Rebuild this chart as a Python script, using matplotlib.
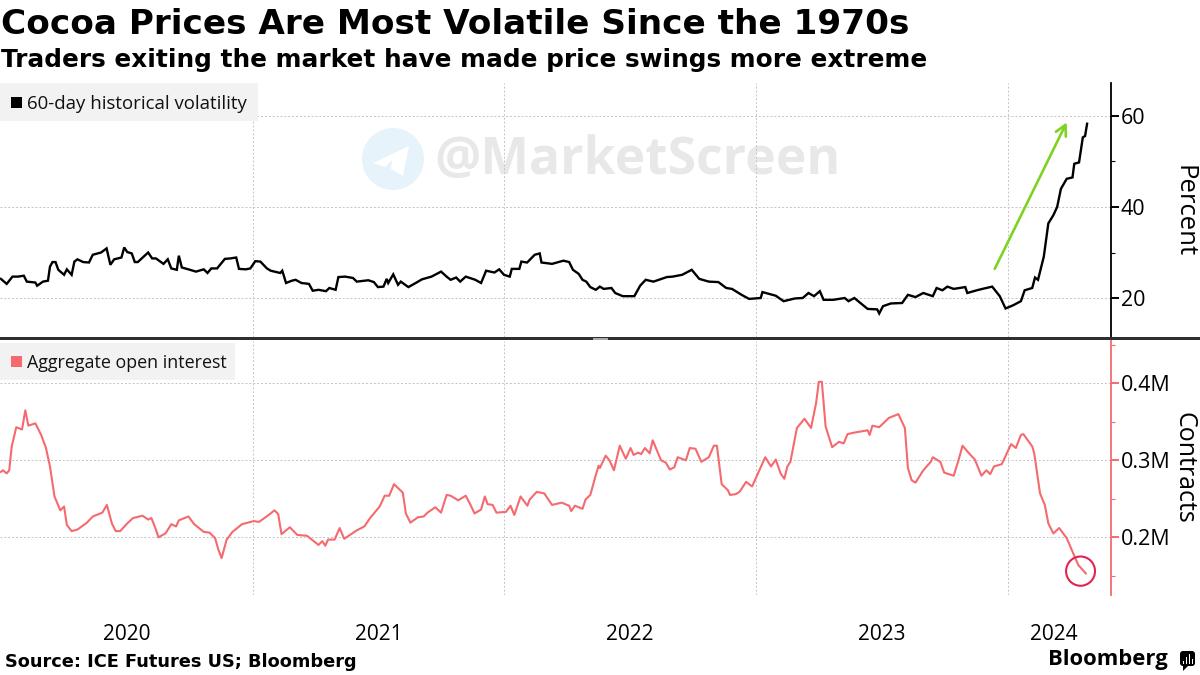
import matplotlib
matplotlib.use("Agg")
import matplotlib.pyplot as plt
from matplotlib.patches import Rectangle, Ellipse, Circle, Polygon, FancyBboxPatch

vol_x = [2020.000,2020.023,2020.046,2020.068,2020.091,2020.103,2020.137,2020.144,2020.167,2020.187,2020.195,2020.205,2020.217,2020.228,2020.251,2020.262,2020.281,2020.292,2020.304,2020.327,2020.350,2020.365,2020.398,2020.420,2020.435,2020.450,2020.479,2020.490,2020.502,2020.520,2020.532,2020.544,2020.585,2020.601,2020.616,2020.646,2020.663,2020.677,2020.699,2020.707,2020.719,2020.745,2020.775,2020.806,2020.821,2020.836,2020.859,2020.890,2020.912,2020.935,2020.946,2020.973,2020.991,
2021.011,2021.031,2021.057,2021.072,2021.110,2021.118,2021.133,2021.156,2021.171,2021.194,2021.224,2021.239,2021.262,2021.292,2021.305,2021.330,2021.341,2021.368,2021.399,2021.414,2021.460,2021.482,2021.498,2021.520,2021.533,2021.539,2021.559,2021.578,2021.589,2021.619,2021.642,2021.673,2021.711,2021.749,2021.771,2021.787,2021.809,2021.825,2021.847,2021.885,2021.908,2021.928,2021.961,2021.980,2021.999,
2022.022,2022.030,2022.060,2022.068,2022.091,2022.121,2022.141,2022.148,2022.190,2022.235,2022.258,2022.273,2022.296,2022.311,2022.326,2022.342,2022.364,2022.380,2022.395,2022.426,2022.441,2022.471,2022.517,2022.540,2022.562,2022.593,2022.646,2022.669,2022.707,2022.745,2022.775,2022.813,2022.851,2022.882,2022.905,2022.943,2022.973,
2023.019,2023.026,2023.079,2023.110,2023.155,2023.186,2023.209,2023.231,2023.254,2023.269,2023.307,2023.353,2023.368,2023.391,2023.444,2023.482,2023.490,2023.505,2023.536,2023.581,2023.604,2023.634,2023.665,2023.703,2023.718,2023.741,2023.761,2023.786,2023.832,2023.840,2023.878,2023.900,2023.939,2023.969,2023.992,
2024.022,2024.053,2024.068,2024.098,2024.109,2024.121,2024.144,2024.162,2024.182,2024.197,2024.212,2024.235,2024.258,2024.265,2024.284,2024.299,2024.308,2024.316]
vol_y = [24.2,23.1,24.7,24.7,24.9,23.6,23.4,22.7,23.6,23.8,26.9,27.9,27.9,26.2,25.1,26.3,25.1,28.0,28.5,27.9,27.8,29.5,30.0,30.9,27.3,28.5,28.9,31.1,30.1,29.8,27.9,27.9,30.0,28.7,28.7,27.5,28.5,26.5,26.2,29.3,26.7,26.3,25.8,26.3,25.5,26.5,26.5,28.6,28.7,28.9,26.4,26.3,26.5,
28.1,28.0,26.5,26.0,25.5,26.0,23.3,23.8,24.0,23.3,23.1,21.6,21.8,21.5,22.2,21.8,24.6,24.7,24.4,23.6,23.9,23.5,22.4,22.5,24.2,23.3,25.2,22.9,23.6,22.4,23.1,24.1,24.7,25.8,24.7,24.0,24.5,23.6,24.7,24.0,23.3,26.0,25.6,26.3,25.1,
24.7,26.4,26.4,28.0,27.8,29.5,29.8,27.8,27.5,28.2,27.9,26.2,25.3,24.0,23.6,22.4,21.8,22.5,22.0,22.2,21.1,20.4,20.4,22.7,24.0,23.6,24.6,24.7,25.1,26.2,24.2,23.6,23.5,22.2,22.0,20.7,19.8,
20.0,21.3,20.5,19.3,19.9,20.0,21.1,20.4,21.5,19.6,19.6,20.0,19.3,20.0,17.6,17.5,16.6,18.2,18.8,18.9,20.7,20.2,21.1,20.4,22.2,21.7,22.5,22.0,22.4,21.1,21.7,22.0,22.5,20.4,17.7,
18.4,19.3,21.7,22.2,24.5,24.0,29.1,36.4,38.2,40.0,44.0,46.2,46.5,49.5,49.8,55.3,55.6,58.3]

oi_x = [2020.000,2020.008,2020.023,2020.033,2020.043,2020.061,2020.084,2020.097,2020.109,2020.137,2020.160,2020.179,2020.195,2020.213,2020.236,2020.251,2020.262,2020.281,2020.304,2020.342,2020.365,2020.403,2020.421,2020.441,2020.456,2020.474,2020.502,2020.525,2020.563,2020.585,2020.598,2020.616,2020.626,2020.654,2020.677,2020.696,2020.707,2020.745,2020.768,2020.806,2020.829,2020.851,2020.864,2020.877,2020.897,2020.920,2020.958,
2021.004,2021.026,2021.064,2021.087,2021.102,2021.115,2021.148,2021.178,2021.216,2021.262,2021.277,2021.289,2021.300,2021.326,2021.346,2021.364,2021.414,2021.444,2021.467,2021.505,2021.525,2021.543,2021.562,2021.597,2021.609,2021.627,2021.657,2021.680,2021.695,2021.726,2021.749,2021.771,2021.787,2021.817,2021.847,2021.863,2021.882,2021.908,2021.923,2021.934,2021.954,2021.969,
2022.007,2022.025,2022.040,2022.065,2022.092,2022.101,2022.129,2022.159,2022.190,2022.228,2022.258,2022.266,2022.281,2022.311,2022.323,2022.342,2022.364,2022.375,2022.380,2022.403,2022.418,2022.436,2022.459,2022.483,2022.502,2022.514,2022.532,2022.544,2022.559,2022.578,2022.590,2022.623,2022.642,2022.658,2022.676,2022.689,2022.722,2022.737,2022.760,2022.783,2022.813,2022.833,2022.845,2022.864,2022.889,2022.897,2022.920,2022.935,2022.961,2022.985,
2023.011,2023.037,2023.060,2023.079,2023.098,2023.113,2023.125,2023.137,2023.163,2023.193,2023.219,2023.239,2023.250,2023.262,2023.277,2023.303,2023.330,2023.349,2023.364,2023.391,2023.444,2023.452,2023.463,2023.490,2023.528,2023.566,2023.592,2023.604,2023.619,2023.634,2023.665,2023.695,2023.703,2023.733,2023.748,2023.786,2023.805,2023.821,2023.847,2023.870,2023.896,2023.916,2023.931,2023.946,2023.977,
2024.014,2024.033,2024.053,2024.063,2024.098,2024.106,2024.129,2024.148,2024.162,2024.182,2024.205,2024.235,2024.261,2024.281,2024.311]
oi_y = [285,287,283,287,318,343,340,365,345,348,333,316,292,253,235,240,216,208,210,219,227,232,242,218,208,208,218,225,228,223,225,210,200,205,217,214,222,227,217,207,206,199,184,173,197,207,217,
221,220,229,235,230,204,213,203,202,190,195,189,197,197,212,198,209,214,225,240,254,254,269,258,231,219,226,227,232,239,232,255,254,248,254,244,231,236,253,243,242,232,
233,241,229,253,241,249,259,257,242,245,241,234,241,237,249,255,281,293,290,306,300,287,319,302,316,307,310,308,316,309,326,300,297,288,291,304,300,316,315,298,304,319,319,269,261,255,256,259,272,266,
285,304,292,301,283,276,292,298,342,354,342,374,402,402,344,317,324,322,334,336,339,333,345,343,355,360,342,290,274,271,287,298,304,298,284,280,300,319,309,301,280,287,282,292,295,
321,316,333,334,318,309,257,242,218,205,212,199,179,164,153]

year_grid = [2021, 2022, 2023, 2024]
year_label_pos = [2020.5, 2021.5, 2022.5, 2023.5, 2024.185]
year_labels = ["2020", "2021", "2022", "2023", "2024"]
vol_ticks = [20, 40, 60]
vol_minor = [30, 50]
oi_ticks = [200, 300, 400]
oi_minor = [150, 250, 350, 450]
oi_tick_labels = ["0.2M", "0.3M", "0.4M"]

W, H = 1200, 675
BODY = "Open Sans"
RED = "#f56a6e"
GRID = "#c4c4c4"
XMIN, XMAX = 2019.9964, 2024.411

fig = plt.figure(figsize=(12, 6.75), dpi=100, facecolor="white")

def box(l, t, r, b):
    return [l / W, 1 - b / H, (r - l) / W, (b - t) / H]

bg = fig.add_axes([0, 0, 1, 1], zorder=0)
bg.set_xlim(0, W); bg.set_ylim(H, 0); bg.axis("off")
top = fig.add_axes(box(0, 83, 1111, 337), zorder=2, facecolor="none")
low = fig.add_axes(box(0, 341, 1111, 595), zorder=2, facecolor="none")
fg = fig.add_axes([0, 0, 1, 1], zorder=3, facecolor="none")
fg.set_xlim(0, W); fg.set_ylim(H, 0); fg.axis("off")

# watermark
bg.add_patch(Circle((393, 159), 31, fc="#e6f3fb", ec="none"))
bg.add_patch(Polygon([(373, 163), (409, 146), (403, 176), (391, 169), (392, 160), (385, 167)], fc="white", ec="none"))
bg.text(434, 160, "@MarketScreen", fontsize=37.2, fontweight="bold", color="#e8e8e8",
        family="Open Sans", va="center", ha="left")

for ax in (top, low):
    ax.set_xlim(XMIN, XMAX)
    for s in ("left", "top", "bottom"):
        ax.spines[s].set_visible(False)
    ax.yaxis.tick_right()
    ax.set_xticks(year_grid)
    ax.tick_params(axis="x", which="major", length=0, labelbottom=False)
    ax.grid(True, axis="both", which="major", color=GRID, lw=0.7, ls=(0, (2, 2)))
    ax.set_axisbelow(True)

top.plot(vol_x, vol_y, color="black", lw=1.7, solid_joinstyle="miter", zorder=3)
top.set_ylim(11.43, 67.25)
top.set_yticks(vol_ticks)
top.set_yticks(vol_minor, minor=True)
top.spines["right"].set_color("black")
top.spines["right"].set_linewidth(1.3)
top.tick_params(axis="y", which="major", length=6, width=1.4, color="black", labelsize=15.5, pad=1)
top.tick_params(axis="y", which="minor", length=3, width=0.8, color="black")
top.set_yticklabels([str(v) for v in vol_ticks], family=BODY)

low.plot(oi_x, oi_y, color=RED, lw=1.5, zorder=3)
low.set_ylim(125, 455)
low.set_yticks(oi_ticks)
low.set_yticks(oi_minor, minor=True)
low.set_yticklabels(oi_tick_labels, family=BODY)
low.spines["right"].set_color(RED)
low.spines["right"].set_linewidth(1.3)
low.tick_params(axis="y", which="major", length=6, width=1.4, color=RED, labelsize=15.5, pad=1)
low.tick_params(axis="y", which="minor", length=3, width=0.8, color=RED)
low.set_xticks(year_label_pos, minor=True)
low.set_xticklabels(year_labels, minor=True, family=BODY, fontsize=15)
low.tick_params(axis="x", which="minor", length=0, pad=21)

# annotations
top.annotate("", xy=(2024.235, 58.6), xytext=(2023.949, 26.4),
             arrowprops=dict(arrowstyle="->,head_length=0.75,head_width=0.4", color="#7ed321", lw=1.9,
                             shrinkA=0, shrinkB=0), zorder=4)
low.add_patch(Ellipse((2024.29, 156), 0.115, 38, fc="none", ec="#e0244f", lw=1.5, zorder=4))

# pane divider
fg.add_patch(Rectangle((0, 337), W, 3.2, fc="#2f2f2f", ec="none"))
fg.add_patch(Rectangle((593, 338.0), 15, 0.6, fc="#aaaaaa", ec="none"))
fg.add_patch(Rectangle((593, 339.2), 15, 0.6, fc="#aaaaaa", ec="none"))

# legends
fg.add_patch(Rectangle((0, 83), 258, 38, fc="#f2f2f2", ec="none"))
fg.add_patch(Rectangle((11, 97), 11, 11, fc="black", ec="none"))
fg.text(27, 104, "60-day historical volatility", fontsize=13.4, family=BODY, va="center", color="#111111")
fg.add_patch(Rectangle((0, 343), 235, 37, fc="#f2f2f2", ec="none"))
fg.add_patch(Rectangle((11, 356), 11, 11, fc=RED, ec="none"))
fg.text(27, 363, "Aggregate open interest", fontsize=12.9, family=BODY, va="center", color="#111111")

# axis titles
fg.text(1184, 211, "Percent", rotation=270, fontsize=18.5, family=BODY, ha="center", va="center")
fg.text(1184, 468, "Contracts", rotation=270, fontsize=18, family=BODY, ha="center", va="center")

# headings and footer
fg.text(1, 25, "Cocoa Prices Are Most Volatile Since the 1970s", fontsize=24.65, fontweight="bold",
        family="DejaVu Sans", va="center", color="black")
fg.text(1, 60, "Traders exiting the market have made price swings more extreme", fontsize=17.85,
        fontweight="bold", family="DejaVu Sans", va="center", color="black")
fg.text(5, 662, "Source: ICE Futures US; Bloomberg", fontsize=12.75, fontweight="bold",
        family="DejaVu Sans", va="center", color="black")
fg.text(1048, 660, "Bloomberg", fontsize=15.8, fontweight="bold", family="Open Sans", va="center", color="black")
fg.add_patch(FancyBboxPatch((1180, 651), 15, 15, boxstyle="round,pad=0,rounding_size=3", fc="black", ec="none"))
fg.add_patch(Polygon([(1183, 666), (1188, 666), (1183, 671)], fc="black", ec="none"))
for bx, bh in zip((1182.5, 1185.5, 1188.5, 1191.5), (3, 7, 10, 5)):
    fg.add_patch(Rectangle((bx, 664 - bh), 1.4, bh, fc="white", ec="none"))

fig.savefig("out.png", dpi=100)
